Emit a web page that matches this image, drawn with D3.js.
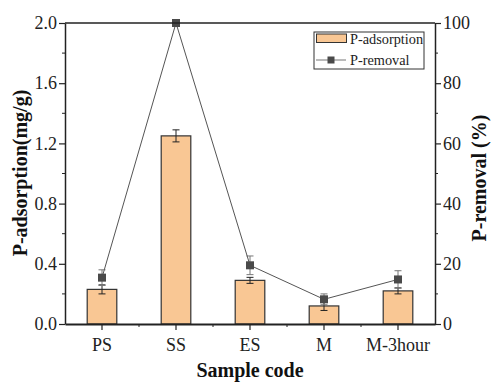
<!DOCTYPE html>
<html><head><meta charset="utf-8">
<script src="https://cdn.jsdelivr.net/npm/d3@7"></script>
<style>body{margin:0;background:#fff}svg{display:block}</style>
</head><body>
<svg id="chart" width="492" height="382"></svg>
<script>
// Sample codes and measurements
const categories = ["PS", "SS", "ES", "M", "M-3hour"];
const adsorption = [0.23, 1.25, 0.29, 0.12, 0.22];        // mg/g
const adsorptionErr = [0.03, 0.04, 0.02, 0.03, 0.02];
const removal = [15.4, 100, 19.5, 8.2, 14.8];              // %
const removalErr = [2.6, 0, 3.1, 1.8, 2.9];
const leftTicks = [0, 0.4, 0.8, 1.2, 1.6, 2.0];
const rightTicks = [0, 20, 40, 60, 80, 100];

const svg = d3.select("#chart");
const font = "'Liberation Serif','Times New Roman',serif";
const m = {left: 65, right: 435, top: 23, bottom: 324};

const x = d3.scaleBand().domain(categories).range([m.left, m.right]).padding(0);
const yL = d3.scaleLinear().domain([0, 2.0]).range([m.bottom, m.top]);
const yR = d3.scaleLinear().domain([0, 100]).range([m.bottom, m.top]);

const barW = x.bandwidth() * 0.4;
const cx = d => x(d) + x.bandwidth() / 2;

// Bars
svg.append("g").selectAll("rect").data(categories).join("rect")
  .attr("x", d => cx(d) - barW / 2)
  .attr("y", (d, i) => yL(adsorption[i]))
  .attr("width", barW)
  .attr("height", (d, i) => yL(0) - yL(adsorption[i]))
  .attr("fill", "#F9C794").attr("stroke", "#333").attr("stroke-width", 1.2);

// Error bars for adsorption
function errBar(g, xc, yTop, yBot, color) {
  g.append("line").attr("x1", xc).attr("x2", xc).attr("y1", yTop).attr("y2", yBot).attr("stroke", color).attr("stroke-width", 1);
  [yTop, yBot].forEach(yy => g.append("line").attr("x1", xc - 3.5).attr("x2", xc + 3.5).attr("y1", yy).attr("y2", yy).attr("stroke", color).attr("stroke-width", 1));
}
const eg = svg.append("g");
categories.forEach((c, i) => {
  errBar(eg, cx(c), yL(adsorption[i] + adsorptionErr[i]), yL(adsorption[i] - adsorptionErr[i]), "#222");
});

// Removal line with error bars
const rg = svg.append("g");
categories.forEach((c, i) => {
  if (removalErr[i] > 0) errBar(rg, cx(c), yR(removal[i] + removalErr[i]), yR(removal[i] - removalErr[i]), "#777");
});
const line = d3.line().x((d, i) => cx(categories[i])).y(d => yR(d));
rg.append("path").datum(removal).attr("d", line).attr("fill", "none").attr("stroke", "#555").attr("stroke-width", 1);
rg.selectAll("rect").data(removal).join("rect")
  .attr("x", (d, i) => cx(categories[i]) - 4).attr("y", d => yR(d) - 4)
  .attr("width", 8).attr("height", 8).attr("fill", "#4a4a4a");

// Frame
svg.append("line").attr("x1", m.left).attr("x2", m.right).attr("y1", m.top).attr("y2", m.top).attr("stroke", "#222").attr("stroke-width", 1.5);

// Axes
const minorL = d3.range(0.2, 2.0, 0.4);
const minorR = d3.range(10, 100, 20);
const axisL = svg.append("g").attr("transform", `translate(${m.left},0)`)
  .call(d3.axisLeft(yL).tickValues(leftTicks).tickFormat(d3.format(".1f")).tickSize(6).tickSizeOuter(0));
axisL.selectAll(".minor").data(minorL).join("line").attr("class", "minor")
  .attr("x1", 0).attr("x2", -3).attr("y1", d => yL(d)).attr("y2", d => yL(d)).attr("stroke", "#222");

const axisR = svg.append("g").attr("transform", `translate(${m.right},0)`)
  .call(d3.axisRight(yR).tickValues(rightTicks).tickSize(6).tickSizeOuter(0));
axisR.selectAll(".minor").data(minorR).join("line").attr("class", "minor")
  .attr("x1", 0).attr("x2", 3).attr("y1", d => yR(d)).attr("y2", d => yR(d)).attr("stroke", "#222");

const axisB = svg.append("g").attr("transform", `translate(0,${m.bottom})`)
  .call(d3.axisBottom(x).tickSize(6).tickSizeOuter(0));
const minorB = categories.slice(0, -1).map(c => x(c) + x.bandwidth());
axisB.selectAll(".minor").data(minorB).join("line").attr("class", "minor")
  .attr("x1", d => d).attr("x2", d => d).attr("y1", 0).attr("y2", 3).attr("stroke", "#222");

[axisL, axisR, axisB].forEach(a => {
  a.attr("font-family", font).attr("font-size", 18);
  a.selectAll(".domain").attr("stroke", "#222").attr("stroke-width", 1.5);
  a.selectAll(".tick line").attr("stroke", "#222").attr("stroke-width", 1.2);
  a.selectAll("text").attr("font-family", font).attr("font-size", 18).attr("fill", "#222");
});
axisB.select(".domain").attr("stroke-width", 2.2);
axisB.selectAll(".tick text").attr("dy", "1.0em");
axisL.selectAll(".tick text").attr("x", -8);
axisR.selectAll(".tick text").attr("x", 8);

// Axis titles
svg.append("text").attr("x", 250).attr("y", 377).attr("text-anchor", "middle")
  .attr("font-family", font).attr("font-size", 20).attr("font-weight", "bold").attr("fill", "#111").text("Sample code");
svg.append("text").attr("transform", "translate(27,173) rotate(-90)").attr("text-anchor", "middle")
  .attr("font-family", font).attr("font-size", 20).attr("font-weight", "bold").attr("fill", "#111").text("P-adsorption(mg/g)");
svg.append("text").attr("transform", "translate(486,178) rotate(-90)").attr("text-anchor", "middle")
  .attr("font-family", font).attr("font-size", 20).attr("font-weight", "bold").attr("fill", "#111").text("P-removal (%)");

// Legend
const lg = svg.append("g");
lg.append("rect").attr("x", 314).attr("y", 32).attr("width", 110).attr("height", 37).attr("fill", "#fff").attr("stroke", "#333").attr("stroke-width", 1);
lg.append("rect").attr("x", 316.5).attr("y", 34).attr("width", 30).attr("height", 8.5).attr("fill", "#F9C794").attr("stroke", "#333").attr("stroke-width", 1);
lg.append("line").attr("x1", 316).attr("x2", 346).attr("y1", 60).attr("y2", 60).attr("stroke", "#777").attr("stroke-width", 1);
lg.append("rect").attr("x", 327.5).attr("y", 56.5).attr("width", 7).attr("height", 7).attr("fill", "#4a4a4a");
lg.append("text").attr("x", 350).attr("y", 44).attr("font-family", font).attr("font-size", 14.3).attr("fill", "#222").text("P-adsorption");
lg.append("text").attr("x", 350).attr("y", 64.5).attr("font-family", font).attr("font-size", 14.3).attr("fill", "#222").text("P-removal");
</script>
</body></html>
